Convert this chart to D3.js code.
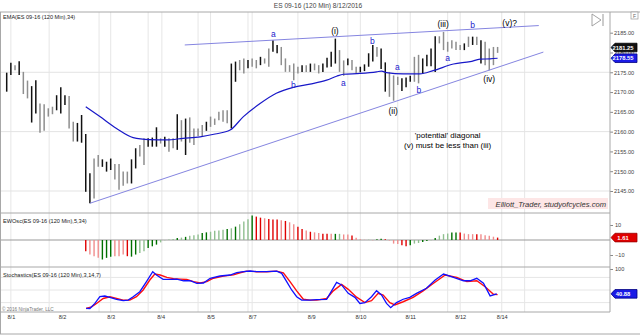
<!DOCTYPE html>
<html><head><meta charset="utf-8">
<script src="https://cdn.jsdelivr.net/npm/d3@7"></script>
<style>body{margin:0;background:#fff}svg{display:block;font-family:"Liberation Sans",Arial,sans-serif}</style>
</head><body><svg id="c" width="640" height="335"></svg>
<script>
// ---------- DATA ----------
const barHigh = [2174.9,2177.4,2176.8,2177.8,2175.1,2172.9,2171.5,2173.0,2167.1,2166.9,
2165.9,2166.3,2169.2,2171.2,2169.2,2169.0,2162.5,2162.2,2164.2,2159.4,
2149.5,2153.2,2154.1,2153.0,2152.4,2153.2,2151.8,2151.8,2149.9,2149.9,
2153.0,2155.8,2156.6,2158.3,2158.3,2158.5,2161.1,2158.3,2158.7,2158.3,
2158.3,2164.4,2162.9,2163.3,2163.6,2160.8,2160.8,2161.7,2162.5,2163.8,
2163.3,2165.0,2165.4,2165.4,2177.2,2177.7,2178.1,2178.5,2178.1,2178.5,
2178.1,2178.9,2178.5,2181.0,2183.1,2181.9,2181.4,2178.5,2176.8,2177.2,
2176.4,2176.8,2176.8,2177.2,2177.2,2176.8,2177.2,2178.7,2180.2,2183.5,
2180.6,2178.0,2178.5,2178.1,2176.4,2176.4,2177.0,2179.8,2181.9,2181.4,
2181.0,2177.5,2175.0,2174.2,2173.9,2173.5,2173.7,2174.1,2178.9,2179.4,
2178.5,2179.4,2181.0,2184.1,2184.1,2185.2,2182.7,2183.1,2182.7,2181.9,
2182.3,2184.0,2184.0,2184.0,2183.1,2182.7,2181.0,2181.4,2181.4];
const barLow = [2170.1,2174.3,2175.5,2174.3,2169.5,2168.4,2162.3,2164.6,2159.7,2160.2,
2163.8,2164.4,2165.4,2164.6,2166.7,2160.8,2157.5,2157.5,2157.2,2144.8,
2141.9,2143.1,2151.1,2151.1,2149.9,2150.3,2147.9,2145.3,2146.3,2146.9,
2146.9,2150.7,2153.7,2151.6,2156.2,2156.2,2156.2,2157.0,2156.2,2154.9,
2155.8,2155.4,2157.5,2154.1,2157.2,2156.6,2158.9,2158.7,2160.2,2161.2,
2161.7,2162.9,2162.5,2162.1,2160.8,2172.6,2175.5,2174.7,2176.0,2176.4,
2176.0,2176.8,2177.2,2176.4,2180.2,2179.8,2176.8,2175.1,2175.1,2173.0,
2174.7,2175.1,2175.1,2175.1,2175.5,2174.7,2175.1,2176.2,2176.4,2177.2,
2175.1,2174.1,2176.8,2175.5,2174.7,2175.0,2175.3,2176.4,2177.7,2178.9,
2175.8,2170.1,2168.8,2167.8,2171.8,2170.3,2171.2,2172.6,2172.6,2172.2,
2174.6,2176.5,2176.5,2175.1,2182.3,2180.6,2180.2,2181.0,2180.6,2180.6,
2180.6,2181.4,2181.9,2181.9,2177.2,2176.8,2175.5,2176.8,2179.9];
// k = up bar (black), g = down bar (grey)
const barShade = "kkgkggkkgg"+"ggkkkggkkk"+"kggkkkgggg"+"kkggkkkgkg"+"gkgkggggkg"+
                 "ggggkkggkg"+"gkggkkgggg"+"gkgkggkkkk"+"ggkggkkkkg"+"kkgggkkkgg"+
                 "kkkkgggggg"+"kgkgkgggg";
const lastClose = 2181.25;
const emaBars   = [20,23.4,27.4,31.4,35.4,39.4,43.4,47.5,51.1,54.7,57.9,61.9,65.8,69.9,73.9,77.9,80.3,81.9,85.9,89.9,91.1,92.3,96.3,100.3,103.5,108.4,112.4,114.8,117.2,119];
const emaValues = [2166.3,2163.8,2160.8,2158.5,2158.0,2157.9,2158.3,2158.7,2159.4,2160.4,2163.8,2167.1,2169.7,2171.2,2172.0,2173.0,2174.0,2174.5,2174.7,2175.1,2175.3,2174.9,2174.6,2174.6,2175.4,2177.1,2177.7,2178.3,2178.4,2178.55];
const upperLineBars = [43.8, 128.9], upperLinePrices = [2181.9, 2186.8];
const lowerLineBars = [21, 130],     lowerLinePrices = [2141.9, 2180.1];
const waveLabels = ["a","(i)","b","a","b","a","(ii)","b","a","(iii)","b","(v)?","(iv)"];
const waveBars   = [65.1,79.9,69.9,81.9,88.9,94.9,93.9,100.1,107.0,105.9,113.0,121.9,117.0];
const wavePrices = [2184.6,2185.4,2171.8,2172.4,2183.0,2176.3,2165.3,2170.4,2178.6,2187.2,2186.9,2187.5,2173.2];
const waveBlue   = [1,0,1,1,1,1,0,1,1,0,1,0,0];
const noteLines  = ["'potential' diagonal","(v) must be less than (iii)"];
const notePrices = [2158.9, 2156.6];
const priceTicks = [2145,2150,2155,2160,2165,2170,2175,2180,2185];
const priceGrid  = [2145,2160,2175];
const dateLabels = ["8/1","8/2","8/3","8/4","8/5","8/7","8/9","8/10","8/11","8/12","8/14"];
const dateBars   = [2,14.3,26,38,50,60,74.2,86,98,110,120];
const gridBars   = [2,11.2,23.2,26,35,38.3,47,50,59,60,71,83,86,95,98,107,110,120,125.5];
const ewoStart = 20;
const ewoValues = [-7.5,-9.7,-10.8,-11.9,-13,-11.9,-11.1,-10.8,-10.8,-9.7,
-10.8,-11.1,-9.7,-8.6,-7.5,-5.3,-4.2,-3.1,-1.6,-0.2,
0.4,0.7,1.4,1.6,2.1,2.8,3.2,3.7,4.6,5.1,
5.5,6.2,6.4,6.9,7.3,7.8,8.9,10.5,12.3,13.8,16.3,
15.6,14.9,14.5,14.0,13.6,13.6,13.1,12.7,11.8,10.5,8.9,7.3,6.4,5.5,5.1,4.6,
4.1,4.1,4.1,4.1,4.1,3.7,3.7,3.0,1.5,0.5,
0.15,0.2,-0.15,0.5,0.8,0.5,-0.3,-2.4,-2.7,-3.5,
-4.1,-3.5,-2.4,-2.0,-1.4,-0.7,-0.2,1.4,2.9,3.9,
4.3,5.0,5.0,5.0,4.3,3.9,3.9,3.9,3.9,3.2,
2.9,2.2,1.61];
// R red, r light red, G dark green, g light green
const ewoShade = "RrrrGGGrrr"+"RGGggGGGgg"+"ggGgGgggGG"+"ggggGgGggg"+"G"+
                 "RRrRRRrRrrRRrRrr"+
                 "RRrGgrrRrr"+"rgrGGRrrrR"+"RGggGGgGgg"+"gGGRrrrRrr"+"rrR";
const ewoTicks = [10,-10];
const stochBlueBars = [20.1,21,22.2,23.4,24.6,25.8,27.4,29,30.2,31.4,33,34.6,36.1,37,38.6,40.3,41.9,43.5,45.1,46.7,48.3,49.9,52.3,54.7,56.3,57.9,59.5,61.1,63.5,65.9,67.1,68.3,69.5,70.7,71.9,73.9,75.5,
77.9,80.3,81.5,83.1,84.7,85.9,87.1,88.7,89.9,91.1,92.3,93.3,94.7,96.3,97.9,99.5,101.9,104,106,108.4,110.8,112.4,114,115.6,117.2,118.8];
const stochBlue = [6.3,6,18,34,35.7,32.5,27.8,24.6,26,34,46,70,93.6,85.7,75.4,75.4,76,72,72,66,66.7,77.8,83.3,85.7,91.3,93.6,95.2,93.6,93.6,95,89.7,69.8,50,34,26,26,27,
27.8,68,62,42,32.5,18,19.8,34,48.4,38,18,8,20,28,32.5,42,54,73.8,88,80,72,72,77.8,66,36,40.88];
const stochRedBars = [20.1,21.4,22.6,24.2,25.8,27.4,29,30.6,32.2,33.8,35.4,36.6,37.9,39.5,41.1,42.7,44.3,45.9,47.5,49.1,50.7,53.1,55.5,57.1,58.7,61.1,63.5,65.9,67.5,69.1,70.7,72.3,73.9,75.5,77.9,79.5,81.5,83.1,85.1,87.1,88.7,90.3,91.5,93.1,94.3,96.3,98.7,101.1,103.6,106.4,109.2,111.6,114,116,118,119];
const stochRed = [6,10,18,29.8,34,30,26,26,34,50,73.8,88,85.7,80,77,76,75,70,67,70,78,83,86,91,95,93.6,93.6,95,91,70,48,28,26,26,29.8,48,63.5,51.6,33,20,24.6,42,38,20,14.3,22,32.5,48,66,85.7,80,70,72,57.9,39.8,39];
const stochGrid = [20,50,80];

// ---------- SCALES ----------
const svg = d3.select("#c");
const plotR = 610;
const x  = d3.scaleLinear().domain([1,119]).range([6.7,497.6]);
const yP = d3.scaleLinear().domain([2145,2185]).range([191,32.7]);
const yE = d3.scaleLinear().domain([-10,10]).range([255,225]);
const yS = d3.scaleLinear().domain([0,100]).range([311,269]);
const P = {main:[12,213], ewo:[213,267], sto:[267,312]};

svg.append("rect").attr("width",640).attr("height",335).attr("fill","#fff");
const defs = svg.append("defs");
Object.entries(P).forEach(([k,[a,b]])=>{
  defs.append("clipPath").attr("id","clip-"+k).append("rect").attr("x",0).attr("y",a).attr("width",plotR).attr("height",b-a);
});

// grid
const grid = svg.append("g");
grid.selectAll("line.v").data(gridBars).join("line")
  .attr("x1",d=>x(d)).attr("x2",d=>x(d)).attr("y1",12).attr("y2",312)
  .attr("stroke","#e6e6e6").attr("stroke-width",1);
grid.selectAll("line.hp").data(priceGrid).join("line")
  .attr("x1",0).attr("x2",plotR).attr("y1",d=>yP(d)).attr("y2",d=>yP(d))
  .attr("stroke","#e3e3e3");
grid.selectAll("line.hs").data(stochGrid).join("line")
  .attr("x1",0).attr("x2",plotR).attr("y1",d=>yS(d)).attr("y2",d=>yS(d))
  .attr("stroke","#e6e6e6");

// title
svg.append("text").attr("x",318).attr("y",8).attr("text-anchor","middle")
  .attr("font-size",6.6).attr("fill","#444").text("ES 09-16 (120 Min)  8/12/2016");

// ---------- MAIN PANEL ----------
const gm = svg.append("g").attr("clip-path","url(#clip-main)");
const bars = barHigh.map((h,i)=>({n:i+1,h,l:barLow[i],s:barShade[i]}));
gm.selectAll("line.bar").data(bars).join("line")
  .attr("x1",d=>x(d.n)).attr("x2",d=>x(d.n))
  .attr("y1",d=>yP(d.h)).attr("y2",d=>yP(d.l))
  .attr("stroke",d=>d.s==="k"?"#111":"#8e8e8e").attr("stroke-width",1.5);
const lineGen = d3.line().x(d=>x(d[0])).y(d=>yP(d[1]));
gm.append("path").datum(upperLineBars.map((b,i)=>[b,upperLinePrices[i]]))
  .attr("d",lineGen).attr("fill","none").attr("stroke","#8585e0").attr("stroke-width",1);
gm.append("path").datum(lowerLineBars.map((b,i)=>[b,lowerLinePrices[i]]))
  .attr("d",lineGen).attr("fill","none").attr("stroke","#8585e0").attr("stroke-width",1);
gm.append("path").datum(emaBars.map((b,i)=>[b,emaValues[i]]))
  .attr("d",lineGen.curve(d3.curveMonotoneX)).attr("fill","none").attr("stroke","#1818c8").attr("stroke-width",1.2);

const gl = gm.append("g").attr("opacity",0.995);
gl.selectAll("text.w").data(waveLabels).join("text")
  .attr("x",(d,i)=>x(waveBars[i])).attr("y",(d,i)=>yP(wavePrices[i]))
  .attr("text-anchor","middle").attr("dominant-baseline","central")
  .attr("font-size",8.5).attr("fill",(d,i)=>waveBlue[i]?"#2222cc":"#000").text(d=>d);
gl.selectAll("text.note").data(noteLines).join("text")
  .attr("x",x(107)).attr("y",(d,i)=>yP(notePrices[i]))
  .attr("text-anchor","middle").attr("dominant-baseline","central")
  .attr("font-size",8).attr("fill","#000").text(d=>d);

// watermark
svg.append("rect").attr("x",488).attr("y",198).attr("width",120).attr("height",11).attr("fill","#fde6e6");
svg.append("text").attr("x",606).attr("y",206.5).attr("text-anchor","end").attr("font-size",7.6)
  .attr("font-style","italic").attr("fill","#333").text("Elliott_Trader, studyofcycles.com");

svg.append("text").attr("x",3).attr("y",19).attr("font-size",5.6).attr("fill","#222").text("EMA(ES 09-16 (120 Min),34)");

// price axis
const pa = svg.append("g").attr("transform",`translate(${plotR},0)`)
  .call(d3.axisRight(yP).tickValues(priceTicks).tickFormat(d3.format(".2f")).tickSize(3).tickPadding(1));
pa.select(".domain").remove();
pa.selectAll("text").attr("font-size",5.6).attr("fill","#444").attr("font-family","Liberation Sans, Arial");
pa.selectAll("line").attr("stroke","#888");

function tag(yv, txt, fill, stroke){
  const g = svg.append("g");
  g.append("path").attr("d",`M${plotR+1},${yv} L${plotR+5},${yv-4.3} L637,${yv-4.3} L637,${yv+4.3} L${plotR+5},${yv+4.3} Z`)
    .attr("fill",fill).attr("stroke",stroke).attr("stroke-width",0.8);
  g.append("text").attr("x",623).attr("y",yv).attr("dominant-baseline","central").attr("text-anchor","middle")
    .attr("font-size",5.8).attr("font-weight","bold").attr("fill","#fff").text(txt);
}
tag(yP(lastClose),"2181.25","#111","#000");
tag(yP(emaValues[emaValues.length-1]),"2178.55","#1a1ae6","#000080");

// ---------- EWO PANEL ----------
const ge = svg.append("g").attr("clip-path","url(#clip-ewo)");
ge.append("line").attr("x1",0).attr("x2",plotR).attr("y1",yE(0)).attr("y2",yE(0)).attr("stroke","#999");
const ewoCol = {R:"#e00000",r:"#f08c8c",G:"#007000",g:"#8fbf8f"};
ge.selectAll("line.e").data(ewoValues).join("line")
  .attr("x1",(d,i)=>x(ewoStart+i)).attr("x2",(d,i)=>x(ewoStart+i))
  .attr("y1",yE(0)).attr("y2",d=>yE(d))
  .attr("stroke",(d,i)=>ewoCol[ewoShade[i]]).attr("stroke-width",1.4);
svg.append("text").attr("x",3).attr("y",223).attr("font-size",5.6).attr("fill","#222").text("EWOsc(ES 09-16 (120 Min),5,34)");
const ea = svg.append("g").attr("transform",`translate(${plotR},0)`)
  .call(d3.axisRight(yE).tickValues(ewoTicks).tickFormat(d3.format("d")).tickSize(3).tickPadding(2));
ea.select(".domain").remove();
ea.selectAll("text").attr("font-size",5.6).attr("fill","#444");
ea.selectAll("line").attr("stroke","#888");
tag(yE(ewoValues[ewoValues.length-1]),"1.61","#e00000","#900");

// ---------- STOCH PANEL ----------
const gs = svg.append("g").attr("clip-path","url(#clip-sto)");
const sl = d3.line().x(d=>x(d[0])).y(d=>yS(d[1]));
gs.append("path").datum(stochRedBars.map((b,i)=>[b,stochRed[i]])).attr("d",sl)
  .attr("fill","none").attr("stroke","#ff1010").attr("stroke-width",1.4);
gs.append("path").datum(stochBlueBars.map((b,i)=>[b,stochBlue[i]])).attr("d",sl)
  .attr("fill","none").attr("stroke","#1010ff").attr("stroke-width",1.3);
svg.append("text").attr("x",3).attr("y",277).attr("font-size",5.6).attr("fill","#222").text("Stochastics(ES 09-16 (120 Min),3,14,7)");
svg.append("text").attr("x",2).attr("y",311).attr("font-size",4.7).attr("fill","#777").text("© 2016 NinjaTrader, LLC");
const sa = svg.append("g").attr("transform",`translate(${plotR},0)`)
  .call(d3.axisRight(yS).tickValues([100]).tickFormat(d3.format("d")).tickSize(3).tickPadding(2));
sa.select(".domain").remove();
sa.selectAll("text").attr("font-size",5.6).attr("fill","#444");
sa.selectAll("line").attr("stroke","#888");
tag(yS(stochBlue[stochBlue.length-1]),"40.88","#1a1ae6","#000080");

// date axis
const da = svg.append("g").attr("transform","translate(0,312)")
  .call(d3.axisBottom(x).tickValues(dateBars).tickFormat((d,i)=>dateLabels[i]).tickSize(0).tickPadding(3));
da.select(".domain").remove();
da.selectAll("text").attr("font-size",5.6).attr("fill","#333");

// borders
const bc = "#a8a8a8";
[[0,12,640,12],[0,213,plotR,213],[0,267,plotR,267],[0,312,plotR,312],[0,334,640,334],
 [0.5,12,0.5,334],[plotR,12,plotR,312]].forEach(([a,b,c,d])=>{
  svg.append("line").attr("x1",a).attr("y1",b).attr("x2",c).attr("y2",d).attr("stroke",bc).attr("stroke-width",1);
});
// toolbar glyphs
svg.append("path").attr("d","M592,14 L592,26 L601,20 Z").attr("fill","none").attr("stroke","#999").attr("stroke-width",0.9);
svg.append("line").attr("x1",603).attr("x2",603).attr("y1",14).attr("y2",26).attr("stroke","#999");
svg.append("rect").attr("x",631).attr("y",12).attr("width",7).attr("height",7).attr("fill","#fff").attr("stroke","#999").attr("stroke-width",0.7);
svg.append("text").attr("x",634.5).attr("y",17.8).attr("text-anchor","middle").attr("font-size",5).attr("fill","#666").text("F");
</script></body></html>
